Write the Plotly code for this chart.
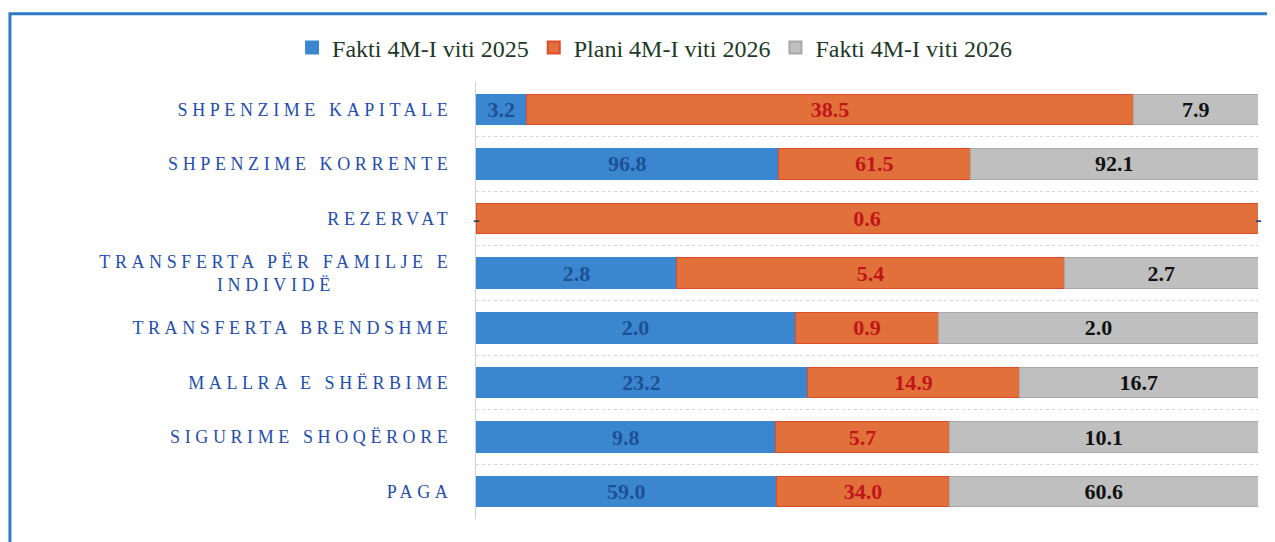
import plotly.graph_objects as go

categories = [
    "SHPENZIME KAPITALE",
    "SHPENZIME KORRENTE",
    "REZERVAT",
    "TRANSFERTA PËR FAMILJE E<br>INDIVIDË",
    "TRANSFERTA BRENDSHME",
    "MALLRA E SHËRBIME",
    "SIGURIME SHOQËRORE",
    "PAGA",
]
series_names = ["Fakti 4M-I viti 2025", "Plani 4M-I viti 2026", "Fakti 4M-I viti 2026"]
fakti_2025 = [3.2, 96.8, 0.0, 2.8, 2.0, 23.2, 9.8, 59.0]
plani_2026 = [38.5, 61.5, 0.6, 5.4, 0.9, 14.9, 5.7, 34.0]
fakti_2026 = [7.9, 92.1, 0.0, 2.7, 2.0, 16.7, 10.1, 60.6]

series = [fakti_2025, plani_2026, fakti_2026]
colors = ["#3A87D0", "#E2703A", "#BFBFBF"]
text_colors = ["#1F5096", "#C0161A", "#111111"]
line_colors = ["#3A87D0", "#E04A2A", "#A8A8A8"]

FONT = "Liberation Serif"

fig = go.Figure()
for name, vals, c, tc, lc in zip(series_names, series, colors, text_colors, line_colors):
    fig.add_trace(go.Bar(
        name=name,
        y=categories,
        x=vals,
        orientation="h",
        marker=dict(color=c, line=dict(color=lc, width=1)),
        text=[f"{v:.1f}" if v != 0 else "" for v in vals],
        textposition="inside",
        insidetextanchor="middle",
        textangle=0,
        constraintext="none",
        textfont=dict(family=FONT, size=22, color=tc, weight="bold"),
    ))

# "-" labels for zero-valued segments, at their stacked (percent) position
for i, cat in enumerate(categories):
    total = sum(s[i] for s in series)
    cum = 0.0
    for s in series:
        v = s[i]
        if v == 0:
            fig.add_annotation(x=cum / total * 100, y=cat, text="-", showarrow=False,
                               font=dict(family=FONT, size=20, color="#1F3F6F"))
        cum += v

fig.update_layout(
    barmode="stack",
    barnorm="percent",
    bargap=0.44,
    width=1275,
    height=542,
    margin=dict(l=468, r=25, t=74, b=31),
    paper_bgcolor="white",
    plot_bgcolor="white",
    font=dict(family=FONT),
    showlegend=True,
    legend=dict(
        orientation="h",
        x=0.229, xanchor="center",
        y=1.078, yanchor="middle",
        font=dict(family=FONT, size=24, color="#1C3A27"),
        itemsizing="constant",
        traceorder="normal",
        itemwidth=30,
    ),
    xaxis=dict(range=[0, 100], showticklabels=False, showgrid=False, zeroline=False, fixedrange=True),
    yaxis=dict(
        autorange="reversed",
        tickson="boundaries",
        showgrid=True,
        gridcolor="#D4D4D4",
        griddash="dot",
        gridwidth=1,
        showline=True,
        linecolor="#CFCFCF",
        ticks="",
        ticklabelstandoff=19,
        tickfont=dict(family=FONT, size=18, color="#1F4DB0"),
    ),
)

# blue frame around the chart
fig.add_shape(type="rect", xref="paper", yref="paper",
              x0=-0.596, x1=1.019, y0=-0.2, y1=1.156,
              line=dict(color="#2F7ACB", width=3), fillcolor="rgba(0,0,0,0)", layer="below")

post = """
document.querySelectorAll('.ytick text').forEach(function(t){
  t.style.letterSpacing='4.6px';
  var ts=t.querySelectorAll('tspan.line');
  if(ts.length>1){
    var w0=ts[0].getComputedTextLength();
    var w1=ts[1].getComputedTextLength();
    var x=parseFloat(ts[1].getAttribute('x'));
    if(!isNaN(x)){ ts[1].setAttribute('x', x-(w0-w1)/2); }
  }
});
"""
fig.write_html("out.html", post_script=post)
